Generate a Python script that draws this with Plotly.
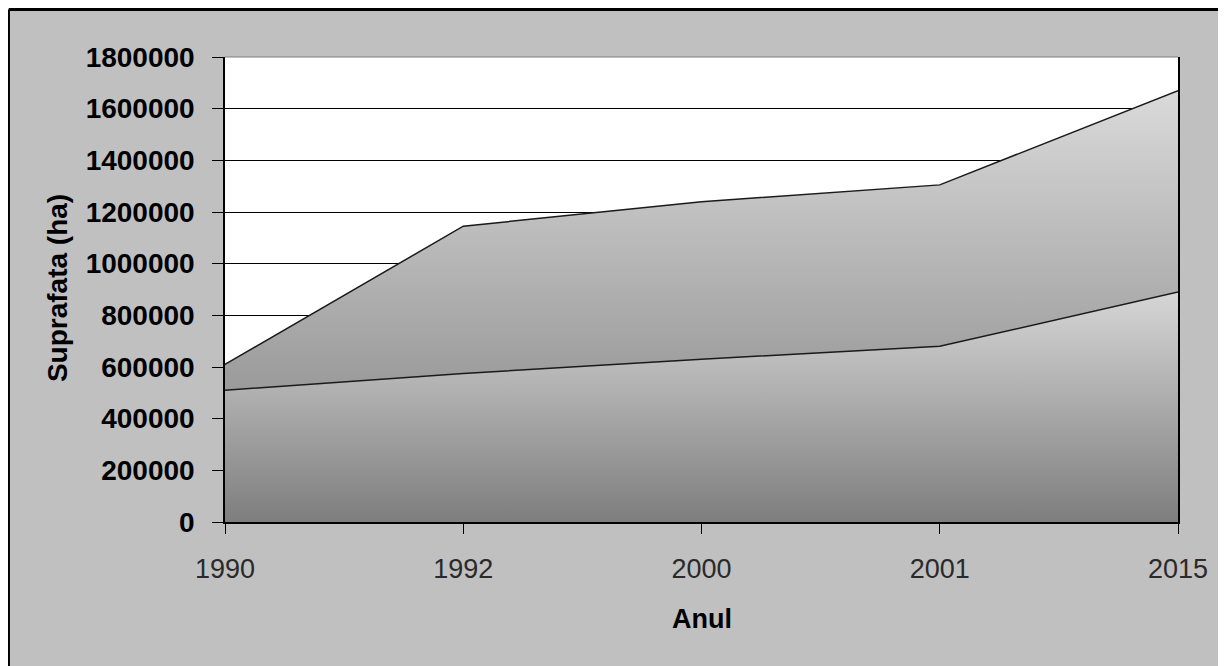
import plotly.graph_objects as go

years = ["1990", "1992", "2000", "2001", "2015"]
series_lower = [510000, 575000, 630000, 680000, 890000]
series_upper = [100000, 570000, 610000, 625000, 780000]  # stacked on top of lower
y_ticks = [0, 200000, 400000, 600000, 800000, 1000000, 1200000, 1400000, 1600000, 1800000]

totals = [a + b for a, b in zip(series_lower, series_upper)]

FONT = "Arial, Liberation Sans, sans-serif"
LINE = "#1a1a1a"

fig = go.Figure()
fig.add_trace(go.Scatter(
    x=years, y=series_lower, mode="lines", stackgroup="one",
    line=dict(color=LINE, width=1.5),
    fillgradient=dict(type="vertical", start=0, stop=max(series_lower),
                      colorscale=[[0, "#7e7e7e"], [1, "#d6d6d6"]]),
    showlegend=False, hoverinfo="skip",
))
fig.add_trace(go.Scatter(
    x=years, y=series_upper, mode="lines", stackgroup="one",
    line=dict(color=LINE, width=1.5),
    fillgradient=dict(type="vertical", start=min(series_lower), stop=max(totals),
                      colorscale=[[0, "#9a9a9a"], [1, "#dadada"]]),
    showlegend=False, hoverinfo="skip",
))

fig.update_layout(
    width=1226, height=666,
    margin=dict(l=217, r=56, t=49, b=152),
    paper_bgcolor="#c0c0c0",
    plot_bgcolor="#ffffff",
    showlegend=False,
    xaxis=dict(
        type="category", range=[0, len(years) - 1],
        showgrid=False, showline=True, linecolor="#000000", linewidth=1.5,
        ticks="outside", ticklen=10, tickcolor="#000000",
        tickfont=dict(family=FONT, size=27, color="#2a2a2a"),
        ticklabelstandoff=12, zeroline=False,
    ),
    yaxis=dict(
        range=[0, 1800000], tickvals=y_ticks,
        ticktext=[str(v) for v in y_ticks],
        showgrid=True, gridcolor="#000000", gridwidth=1,
        showline=True, linecolor="#000000", linewidth=1.5, mirror=True,
        ticks="outside", ticklen=11, tickcolor="#000000",
        tickfont=dict(family=FONT, size=28, color="#000000", weight="bold"),
        ticklabelstandoff=12, zeroline=False,
    ),
    shapes=[
        dict(type="line", xref="paper", yref="paper", x0=0, x1=1, y0=1, y1=1,
             line=dict(color="#808080", width=1), layer="above"),
        dict(type="line", xref="paper", yref="paper", x0=-0.2267, x1=1.07, y0=1.1022, y1=1.1022,
             line=dict(color="#000000", width=3), layer="above"),
        dict(type="line", xref="paper", yref="paper", x0=-0.2267, x1=-0.2267, y0=1.1022, y1=-0.34,
             line=dict(color="#000000", width=2), layer="above"),
    ],
    annotations=[
        dict(text="<b>Suprafata (ha)</b>", xref="paper", yref="paper", x=-0.1763, y=0.503,
             xanchor="center", yanchor="middle", textangle=-90, showarrow=False,
             font=dict(family=FONT, size=28, color="#000000")),
        dict(text="<b>Anul</b>", xref="paper", yref="paper", x=0.5005, y=-0.2086,
             xanchor="center", yanchor="middle", showarrow=False,
             font=dict(family=FONT, size=27, color="#000000")),
    ],
)

fig.write_html("out.html")
